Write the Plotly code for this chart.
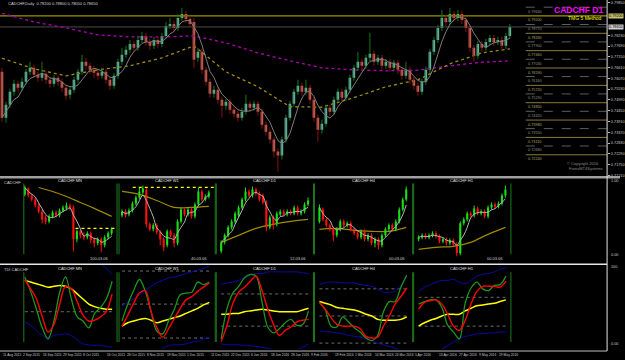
import plotly.graph_objects as go
import pandas as pd

W, H = 625, 360

# ---------------- main chart: CADCHF Daily ----------------
main_open = [0.7640,0.7410,0.7475,0.7540,0.7580,0.7560,0.7590,0.7640,0.7660,0.7625,0.7610,0.7630,0.7600,0.7580,0.7610,0.7590,
             0.7560,0.7525,0.7550,0.7600,0.7640,0.7690,0.7670,0.7650,0.7635,0.7620,0.7640,0.7600,0.7570,0.7620,0.7690,0.7725,
             0.7750,0.7780,0.7760,0.7800,0.7820,0.7790,0.7770,0.7800,0.7780,0.7820,0.7870,0.7880,0.7860,0.7910,0.7930,0.7905,
             0.7890,0.7710,0.7740,0.7650,0.7590,0.7530,0.7550,0.7500,0.7470,0.7490,0.7450,0.7430,0.7410,0.7440,0.7480,0.7460,
             0.7480,0.7440,0.7375,0.7340,0.7300,0.7240,0.7220,0.7300,0.7410,0.7480,0.7540,0.7570,0.7540,0.7560,0.7500,0.7410,
             0.7350,0.7380,0.7460,0.7440,0.7500,0.7540,0.7510,0.7550,0.7610,0.7660,0.7690,0.7670,0.7710,0.7730,0.7690,0.7710,
             0.7670,0.7690,0.7660,0.7685,0.7650,0.7620,0.7650,0.7600,0.7570,0.7540,0.7590,0.7650,0.7740,0.7800,0.7860,0.7910,
             0.7890,0.7930,0.7910,0.7930,0.7900,0.7860,0.7760,0.7720,0.7780,0.7760,0.7790,0.7810,0.7790,0.7800,0.7770,0.7820]
main_high = [0.7660,0.7490,0.7555,0.7600,0.7595,0.7610,0.7655,0.7690,0.7675,0.7640,0.7690,0.7645,0.7615,0.7625,0.7625,0.7605,
             0.7575,0.7565,0.7615,0.7655,0.7725,0.7710,0.7685,0.7670,0.7650,0.7660,0.7655,0.7615,0.7635,0.7705,0.7760,0.7770,
             0.7800,0.7795,0.7820,0.7840,0.7835,0.7805,0.7815,0.7815,0.7835,0.7890,0.7910,0.7895,0.7930,0.7960,0.7945,0.7920,
             0.7910,0.7760,0.7755,0.7665,0.7605,0.7570,0.7565,0.7515,0.7505,0.7505,0.7465,0.7445,0.7460,0.7525,0.7495,0.7495,
             0.7495,0.7455,0.7390,0.7355,0.7315,0.7255,0.7315,0.7425,0.7495,0.7555,0.7600,0.7585,0.7600,0.7575,0.7515,0.7425,
             0.7400,0.7475,0.7475,0.7515,0.7555,0.7555,0.7565,0.7625,0.7675,0.7740,0.7705,0.7725,0.7835,0.7745,0.7725,0.7725,
             0.7705,0.7705,0.7700,0.7700,0.7665,0.7690,0.7665,0.7615,0.7585,0.7605,0.7665,0.7755,0.7815,0.7875,0.7950,0.7925,
             0.7960,0.7945,0.7950,0.7945,0.7915,0.7875,0.7775,0.7795,0.7795,0.7805,0.7825,0.7825,0.7815,0.7815,0.7835,0.7880]
main_low = [0.7390,0.7385,0.7460,0.7520,0.7540,0.7545,0.7575,0.7625,0.7610,0.7590,0.7595,0.7580,0.7560,0.7565,0.7570,0.7540,
            0.7500,0.7505,0.7535,0.7585,0.7625,0.7650,0.7630,0.7610,0.7600,0.7605,0.7580,0.7550,0.7555,0.7605,0.7675,0.7710,
            0.7735,0.7740,0.7745,0.7785,0.7770,0.7750,0.7755,0.7760,0.7765,0.7805,0.7855,0.7840,0.7845,0.7895,0.7885,0.7865,
            0.7660,0.7690,0.7630,0.7570,0.7510,0.7510,0.7480,0.7410,0.7450,0.7430,0.7410,0.7390,0.7395,0.7425,0.7440,0.7445,
            0.7420,0.7355,0.7320,0.7280,0.7210,0.7140,0.7200,0.7285,0.7395,0.7465,0.7525,0.7520,0.7525,0.7480,0.7390,0.7290,
            0.7330,0.7365,0.7420,0.7425,0.7485,0.7490,0.7495,0.7535,0.7595,0.7645,0.7650,0.7655,0.7695,0.7670,0.7675,0.7650,
            0.7655,0.7640,0.7645,0.7630,0.7600,0.7605,0.7580,0.7550,0.7520,0.7525,0.7575,0.7635,0.7725,0.7785,0.7845,0.7870,
            0.7875,0.7890,0.7895,0.7880,0.7840,0.7740,0.7690,0.7705,0.7740,0.7745,0.7775,0.7770,0.7775,0.7750,0.7755,0.7805]
main_close = [0.7410,0.7475,0.7540,0.7580,0.7560,0.7590,0.7640,0.7660,0.7625,0.7610,0.7630,0.7600,0.7580,0.7610,0.7590,0.7560,
              0.7520,0.7550,0.7600,0.7640,0.7690,0.7670,0.7650,0.7635,0.7620,0.7640,0.7600,0.7570,0.7620,0.7690,0.7725,0.7750,
              0.7780,0.7760,0.7800,0.7820,0.7790,0.7770,0.7800,0.7780,0.7820,0.7870,0.7880,0.7860,0.7910,0.7930,0.7905,0.7880,
              0.7700,0.7740,0.7650,0.7590,0.7530,0.7550,0.7500,0.7470,0.7490,0.7450,0.7430,0.7410,0.7440,0.7480,0.7460,0.7480,
              0.7440,0.7375,0.7340,0.7300,0.7240,0.7220,0.7300,0.7410,0.7480,0.7540,0.7570,0.7540,0.7560,0.7500,0.7410,0.7350,
              0.7380,0.7460,0.7440,0.7500,0.7540,0.7510,0.7550,0.7610,0.7660,0.7690,0.7670,0.7710,0.7730,0.7690,0.7710,0.7670,
              0.7690,0.7660,0.7685,0.7650,0.7620,0.7650,0.7600,0.7570,0.7540,0.7590,0.7650,0.7740,0.7800,0.7860,0.7910,0.7890,
              0.7930,0.7910,0.7930,0.7900,0.7860,0.7760,0.7720,0.7780,0.7760,0.7790,0.7810,0.7790,0.7800,0.7770,0.7820,0.7865]
ma_idx = [0, 8, 16, 24, 32, 40, 48, 56, 64, 72, 80, 88, 96, 104, 112, 120, 127]
ma_slow = [0.7708,0.7655,0.7620,0.7650,0.7670,0.7710,0.7770,0.7640,0.7565,0.7465,0.7463,0.7510,0.7565,0.7600,0.7680,0.7735,0.7755]
ma_long = [0.7933,0.7890,0.7860,0.7825,0.7815,0.7815,0.7820,0.7785,0.7735,0.7695,0.7660,0.7650,0.7645,0.7648,0.7670,0.7688,0.7695]
level_full = 0.7920
levels_solid = [0.7920,0.7833,0.7746,0.7659,0.7572,0.7485,0.7398,0.7311,0.7224]
levels_dash = [0.7964,0.7877,0.7790,0.7703,0.7616,0.7529,0.7442,0.7355,0.7268]
price_ticks = [0.7985,0.7931,0.7877,0.7823,0.7769,0.7715,0.7661,0.7607,0.7553,0.7499,0.7445,0.7391,0.7337,0.7283,
               0.7229,0.7175,0.7121]
date_idx = [0,5,10,15,20,26,31,36,41,46,52,57,62,67,72,77,83,88,93,98,103,109,114,119,124]
date_labels = ["11 Aug 2015","2 Sep 2015","16 Sep 2015","29 Sep 2015","8 Oct 2015","16 Oct 2015","28 Oct 2015",
               "8 Nov 2015","19 Nov 2015","1 Dec 2015","11 Dec 2015","22 Dec 2015","6 Jan 2016","18 Jan 2016",
               "28 Jan 2016","9 Feb 2016","19 Feb 2016","1 Mar 2016","14 Mar 2016","24 Mar 2016","5 Apr 2016",
               "13 Apr 2016","27 Apr 2016","9 May 2016","19 May 2016"]

# ---------------- multi-timeframe panel (relative levels) ----------------
tf_names = ["CADCHF MN", "CADCHF W1", "CADCHF D1", "CADCHF H4", "CADCHF H1"]
tf_timers = ["100.03.06", "40.03.06", "12.03.06", "00.03.06", "00.03.06"]
mn_open = [67,73,66,62,56,50,44,40,45,49,46,51,53,56,54,22,30,26,24,28,22,18,22,16,24,28]
mn_close = [74,66,62,56,50,42,40,45,49,46,51,54,56,53,22,30,26,24,28,21,18,22,16,24,28,32]
mn_high = [76,74,68,64,58,52,46,47,51,51,53,56,59,58,56,32,32,29,30,30,24,24,24,26,30,34]
mn_low = [65,64,60,54,48,38,37,38,43,44,44,49,51,51,10,19,23,21,22,18,14,16,9,14,22,26]
w1_open = [46,50,47,51,58,64,69,72,37,32,36,29,22,16,30,26,18,40,52,47,52,45,57,70,62,65]
w1_close = [50,46,51,58,64,70,73,37,32,36,29,22,14,30,26,18,40,52,47,52,45,57,70,62,65,69]
w1_high = [52,52,53,60,66,74,76,74,39,38,38,31,24,32,32,28,42,54,54,54,54,59,74,72,67,71]
w1_low = [44,44,45,49,56,62,67,34,30,30,27,16,10,14,24,14,16,38,45,45,43,43,55,60,60,63]
d1_open = [10,19,26,34,40,46,54,62,70,66,72,68,66,59,34,44,37,47,50,47,50,48,54,48,50,57]
d1_close = [19,26,34,40,48,54,62,70,66,72,68,62,59,34,44,37,48,50,47,50,48,54,48,50,57,61]
d1_high = [21,28,36,42,50,56,64,74,72,75,74,70,68,61,46,46,50,52,52,52,52,56,56,52,59,64]
d1_low = [8,17,24,32,38,44,52,60,64,64,66,60,57,30,32,32,35,45,45,45,46,46,46,46,48,55]
h4_open = [40,52,42,36,32,26,32,40,36,38,32,28,24,30,22,26,18,22,16,26,32,36,32,40,52,62]
h4_close = [54,42,36,32,26,32,40,36,38,32,28,24,30,22,26,18,22,16,26,32,36,32,40,52,62,72]
h4_high = [57,54,44,38,34,34,42,42,40,40,34,30,32,32,28,28,24,24,28,34,38,38,42,54,64,75]
h4_low = [38,40,34,30,20,24,30,34,34,30,26,22,22,20,20,16,14,12,14,24,30,30,30,38,50,60]
h1_open = [22,24,26,24,26,28,25,20,22,18,21,17,8,38,42,48,46,53,48,50,45,54,57,55,58,66]
h1_close = [24,26,24,26,28,25,20,22,18,21,17,8,38,42,48,46,53,48,50,45,54,57,55,58,66,72]
h1_high = [26,28,28,28,30,30,27,24,24,23,23,19,40,44,50,50,56,55,52,52,56,59,59,60,68,76]
h1_low = [20,22,22,22,24,23,18,18,16,16,15,5,6,36,40,44,44,46,46,43,43,52,53,53,56,64]
mn_slow_idx = [4,8,12,16,20,25]
tf_slow_idx = [0,5,10,15,20,25]
mn_slow = [74,70,65,59,53,45]
w1_slow = [70,67,61,54,54,55]
d1_slow = [19,26,33,37,40,42]
h4_slow = [32,33,31,30,30,34]
h1_slow = [12,14,15,19,27,34]
mn_hline = (33, 14.6, 26.3)
w1_hline = (74, 3.1, 26.9)

# ---------------- TDI panel ----------------
mn_tdi_green = [85,68,47,25,12,33,67,85,59,38,33,25,42,49,59,80]
mn_tdi_red = [82,71,59,38,20,29,53,74,71,56,40,33,34,38,44,65]
mn_tdi_yellow = [81,79,77,75,73,74,75,74,71,65,59,53,50,48,47,47]
mn_tdi_upper = [120,122,124,125,124,122,120,118,116,114,112,110,106,101,95,88]
mn_tdi_lower = [32,28,22,16,13,16,17,18,16,11,6,5,4,4,3,2]
mn_tdi_levels = [44]
w1_tdi_green = [33,53,69,82,68,44,21,18,33,47,64,66,67,79,76,79]
w1_tdi_red = [27,40,54,66,69,44,25,14,24,36,48,58,62,68,73,78]
w1_tdi_yellow = [27,31,33,35,36,34,31,33,35,37,39,42,45,48,52,55]
w1_tdi_upper = [51,55,59,64,69,74,78,81,84,85,87,89,91,93,95,98]
w1_tdi_lower = [-12,-11,-10,-9,-8,-6,-4,1,4,5,5,6,8,9,12,14]
w1_tdi_levels = [92,53,13]
d1_tdi_green = [12,48,66,74,84,88,86,56,26,19,24,31,35,28,29,45]
d1_tdi_red = [9,28,54,67,73,80,86,69,47,29,16,22,26,32,34,35]
d1_tdi_yellow = [41,41,42,42,44,45,46,47,46,45,44,44,44,44,46,48]
d1_tdi_upper = [76,78,79,81,84,87,89,89,91,91,91,91,91,91,90,89]
d1_tdi_lower = [6,5,5,5,4,4,3,2,1,-1,-2,-3,-3,-1,2,6]
d1_tdi_levels = [65,27]
h4_tdi_green = [55,46,27,26,38,32,25,20,13,10,16,44,56,56,73,87]
h4_tdi_red = [55,47,37,29,27,27,27,24,15,13,14,27,39,53,62,72]
h4_tdi_yellow = [56,54,52,49,48,47,46,44,41,39,35,34,34,34,35,38]
h4_tdi_upper = [76,78,79,79,78,78,78,76,75,74,71,67,67,68,75,87]
h4_tdi_lower = [21,21,20,19,18,16,15,14,12,10,7,5,3,1,-1,-2]
h4_tdi_levels = [71,39,7]
h1_tdi_green = [53,56,58,58,49,28,20,12,54,72,79,71,69,75,76,86]
h1_tdi_red = [47,55,57,58,53,41,27,22,34,53,68,74,74,74,73,80]
h1_tdi_yellow = [27,31,34,36,39,41,41,41,45,48,51,52,53,54,56,58]
h1_tdi_upper = [68,73,76,79,81,81,82,79,77,81,86,88,89,91,94,96]
h1_tdi_lower = [-12,-9,-6,-4,0,4,8,12,15,16,18,18,19,19,20,20]
h1_tdi_levels = [61,27]

FONT = "Liberation Sans"
fig = go.Figure()


def candles(xa, ya, o, h, l, c, up_body, dn_body, up_wick, dn_wick, bw):
    idx = list(range(len(c)))
    for up, wc in ((True, up_wick), (False, dn_wick)):
        xs, ys = [], []
        for i in idx:
            if (c[i] >= o[i]) == up:
                xs += [i, i, None]
                ys += [l[i], h[i], None]
        fig.add_trace(go.Scatter(x=xs, y=ys, mode="lines", line=dict(color=wc, width=1),
                                 xaxis=xa, yaxis=ya, hoverinfo="skip", showlegend=False))
    base = [min(a, b) for a, b in zip(o, c)]
    hgt = [abs(b - a) for a, b in zip(o, c)]
    cols = [up_body if b >= a else dn_body for a, b in zip(o, c)]
    fig.add_trace(go.Bar(x=idx, y=hgt, base=base, width=bw, marker=dict(color=cols, line=dict(width=0)),
                         xaxis=xa, yaxis=ya, hoverinfo="skip", showlegend=False))


def line(xa, ya, x, y, color, width=1, dash="solid", shape="linear"):
    fig.add_trace(go.Scatter(x=x, y=y, mode="lines", line=dict(color=color, width=width, dash=dash, shape=shape),
                             xaxis=xa, yaxis=ya, hoverinfo="skip", showlegend=False))


# ---- main chart ----
n_main = len(main_close)
px_bar = 512 / (n_main - 1)
x_left = -2 / px_bar
x_right = 610 / px_bar
x_lv = 528 / px_bar
line("x", "y", [x_left, x_right], [level_full, level_full], "#9a9400", 1.2)
line("x", "y", [x_left, x_right], [main_close[-1], main_close[-1]], "#4a4a4a", 1)
for lv in levels_solid[1:]:
    line("x", "y", [x_lv, x_right], [lv, lv], "#857d3a", 1)
for lv in levels_dash:
    line("x", "y", [x_lv, x_right], [lv, lv], "#5e5e5e", 1, "dash")
line("x", "y", ma_idx, ma_long, "#b000b0", 1.3, "dot")
line("x", "y", ma_idx, ma_slow, "#a08c10", 1.3, "dot")
candles("x", "y", main_open, main_high, main_low, main_close, "#8fd3ea", "#f38a78", "#127a12", "#8a1010", 0.62)
fast = pd.Series(main_close).rolling(5, min_periods=1).mean().tolist()
line("x", "y", list(range(n_main)), fast, "#7c7c7c", 1)

# ---- timeframe panels ----
tf_data = [(mn_open, mn_high, mn_low, mn_close, mn_slow_idx, mn_slow),
           (w1_open, w1_high, w1_low, w1_close, tf_slow_idx, w1_slow),
           (d1_open, d1_high, d1_low, d1_close, tf_slow_idx, d1_slow),
           (h4_open, h4_high, h4_low, h4_close, tf_slow_idx, h4_slow),
           (h1_open, h1_high, h1_low, h1_close, tf_slow_idx, h1_slow)]
tf_hlines = [mn_hline, w1_hline, None, None, None]
tdi_data = [(mn_tdi_green, mn_tdi_red, mn_tdi_yellow, mn_tdi_upper, mn_tdi_lower, mn_tdi_levels),
            (w1_tdi_green, w1_tdi_red, w1_tdi_yellow, w1_tdi_upper, w1_tdi_lower, w1_tdi_levels),
            (d1_tdi_green, d1_tdi_red, d1_tdi_yellow, d1_tdi_upper, d1_tdi_lower, d1_tdi_levels),
            (h4_tdi_green, h4_tdi_red, h4_tdi_yellow, h4_tdi_upper, h4_tdi_lower, h4_tdi_levels),
            (h1_tdi_green, h1_tdi_red, h1_tdi_yellow, h1_tdi_upper, h1_tdi_lower, h1_tdi_levels)]

panel_lr = [(24, 118), (120, 217), (218, 316), (317, 416), (417, 515)]
panel_start = [25, 123, 223, 322, 422]
cstep = 3.5
tstep = 88 / 15

# tick labels that would sit under the two value boxes are left out
box_levels = [level_full, main_close[-1]]
tickvals = [t for t in price_ticks if all(abs(t - b) > 0.0035 for b in box_levels)]

layout_axes = {}
layout_axes["xaxis"] = dict(domain=[0, 612 / W], range=[x_left, x_right], visible=False, fixedrange=True)
layout_axes["yaxis"] = dict(domain=[1 - 177 / H, 1], range=[0.8 - 177 * 0.0005, 0.8], side="right",
                            showgrid=False, zeroline=False, showline=False, ticks="outside", ticklen=2,
                            tickcolor="#bbbbbb", tickfont=dict(size=3.8, color="#c8c8c8", family=FONT),
                            tickformat=".5f", tickmode="array", tickvals=tickvals)

for k in range(5):
    L, R = panel_lr[k]
    s = panel_start[k]
    xa, ya = f"x{k + 2}", f"y{k + 2}"
    o, h, l, c, si, sv = tf_data[k]
    layout_axes[f"xaxis{k + 2}"] = dict(domain=[L / W, R / W], range=[(L - s) / cstep, (R - s) / cstep],
                                        visible=False, anchor=ya)
    layout_axes[f"yaxis{k + 2}"] = dict(domain=[1 - 262 / H, 1 - 182 / H], range=[0, 80], visible=False, anchor=xa)
    line(xa, ya, si, sv, "#a08a00", 1.2, shape="spline")
    candles(xa, ya, o, h, l, c, "#18e018", "#ff1010", "#18e018", "#ff1010", 0.6)
    g = pd.Series(c).rolling(4, min_periods=1).mean().tolist()
    line(xa, ya, list(range(len(c))), g, "#b4b4b4", 1, shape="spline")
    if tf_hlines[k]:
        lv, a, b = tf_hlines[k]
        line(xa, ya, [a, b], [lv, lv], "#ffff00", 1.2, "dot")

    xt, yt = f"x{k + 7}", f"y{k + 7}"
    gr, rd, ye, up, lo, lvs = tdi_data[k]
    ti = list(range(len(gr)))
    layout_axes[f"xaxis{k + 7}"] = dict(domain=[L / W, R / W], range=[(L - s) / tstep, (R - s) / tstep],
                                        visible=False, anchor=yt)
    layout_axes[f"yaxis{k + 7}"] = dict(domain=[1 - 350 / H, 1 - 265 / H], range=[0, 100], visible=False, anchor=xt)
    for lv in lvs:
        line(xt, yt, [0, ti[-1]], [lv, lv], "#6e6e6e", 1, "dot")
    line(xt, yt, ti, up, "#0a0aa8", 1, shape="spline")
    line(xt, yt, ti, lo, "#0a0aa8", 1, shape="spline")
    line(xt, yt, ti, ye, "#ffff00", 1.5, shape="spline")
    line(xt, yt, ti, gr, "#1c961c", 1.3, shape="spline")
    line(xt, yt, ti, rd, "#ff0000", 1.4, shape="spline")


def X(px):
    return px / W


def Y(py):
    return 1 - py / H


shapes = []
shapes.append(dict(type="rect", xref="paper", yref="paper", x0=0, x1=1, y0=Y(179), y1=Y(176.5),
                   fillcolor="#a0a0a0", line=dict(width=0)))
shapes.append(dict(type="line", xref="paper", yref="paper", x0=0, x1=X(612), y0=Y(265), y1=Y(265),
                   line=dict(color="#e8e8e8", width=1.5)))
shapes.append(dict(type="line", xref="paper", yref="paper", x0=0, x1=X(612), y0=Y(352), y1=Y(352),
                   line=dict(color="#bdbdbd", width=1)))
shapes.append(dict(type="line", xref="paper", yref="paper", x0=X(612), x1=X(612), y0=Y(0), y1=Y(352),
                   line=dict(color="#e0e0e0", width=1)))
for (L, R) in panel_lr:
    for xp in (L, R):
        shapes.append(dict(type="line", xref="paper", yref="paper", x0=X(xp), x1=X(xp), y0=Y(255), y1=Y(184),
                           line=dict(color="#1f7a1f", width=1)))
        shapes.append(dict(type="line", xref="paper", yref="paper", x0=X(xp), x1=X(xp), y0=Y(343), y1=Y(273),
                           line=dict(color="#1f7a1f", width=1)))

ann = []


def txt(x, y, t, size=4, color="#d0d0d0", xanchor="left", yanchor="middle", xref="paper", yref="paper", **kw):
    ann.append(dict(x=x, y=y, text=t, xref=xref, yref=yref, showarrow=False, xanchor=xanchor, yanchor=yanchor,
                    font=dict(size=size, color=color, family=FONT), **kw))


title = (f"CADCHF,Daily  {main_open[-1]:.5f} {main_high[-1]:.5f} {main_low[-1]:.5f} {main_close[-1]:.5f}")
txt(X(6), Y(4), title, 4, "#d8d8d8")
txt(X(610), Y(10), "<b>CADCHF D1</b>", 8.5, "#ff00ff", xanchor="right")
txt(X(609), Y(18), "TMG 5 Method", 5, "#ffff00", xanchor="right")
for lv in levels_solid:
    txt(x_lv, lv, f"{lv:.5f}", 3.8, "#a8a070", xref="x", yref="y", yanchor="top", yshift=-0.5)
for lv in levels_dash:
    txt(x_lv, lv, f"{lv:.5f}", 3.8, "#8a8a8a", xref="x", yref="y", yanchor="top", yshift=-0.5)
txt(X(613), level_full, f"{level_full:.5f}", 3.8, "#000000", yref="y", bgcolor="#c8c070", borderpad=0)
txt(X(613), main_close[-1], f"{main_close[-1]:.5f}", 3.8, "#000000", yref="y", bgcolor="#d0d0d0", borderpad=0)
txt(X(570), Y(164), "© Copyright 2016", 4, "#8a8a8a")
txt(X(572), Y(169), "ForexMT4Systems", 4, "#8a8a8a")

txt(X(2), Y(183), "CADCHF", 4, "#d0d0d0")
txt(X(2), Y(270), "TDI CADCHF", 4, "#d0d0d0")
txt(X(614), Y(182), "1.00", 3.8, "#c8c8c8")
txt(X(614), Y(256), "0.00", 3.8, "#c8c8c8")
txt(X(614), Y(268), "100", 3.8, "#c8c8c8")
txt(X(614), Y(345), "0.00", 3.8, "#c8c8c8")
for k, (L, R) in enumerate(panel_lr):
    cx = (L + R) / 2
    txt(X(cx), Y(181), tf_names[k], 4, "#e0e0e0", xanchor="center")
    txt(X(cx), Y(269), tf_names[k], 4, "#e0e0e0", xanchor="center")
    txt(X(R - 6), Y(259.5), tf_timers[k], 4, "#d0d0d0", xanchor="right")
for di, dl in zip(date_idx, date_labels):
    txt(di, Y(356), dl, 3.3, "#c8c8c8", xref="x", xshift=-1)

fig.update_layout(width=W, height=H, margin=dict(l=0, r=0, t=0, b=0), paper_bgcolor="#000000",
                  plot_bgcolor="#000000", barmode="overlay", showlegend=False, shapes=shapes, annotations=ann,
                  font=dict(family=FONT, color="#d0d0d0"), **layout_axes)
fig.write_html("out.html")
